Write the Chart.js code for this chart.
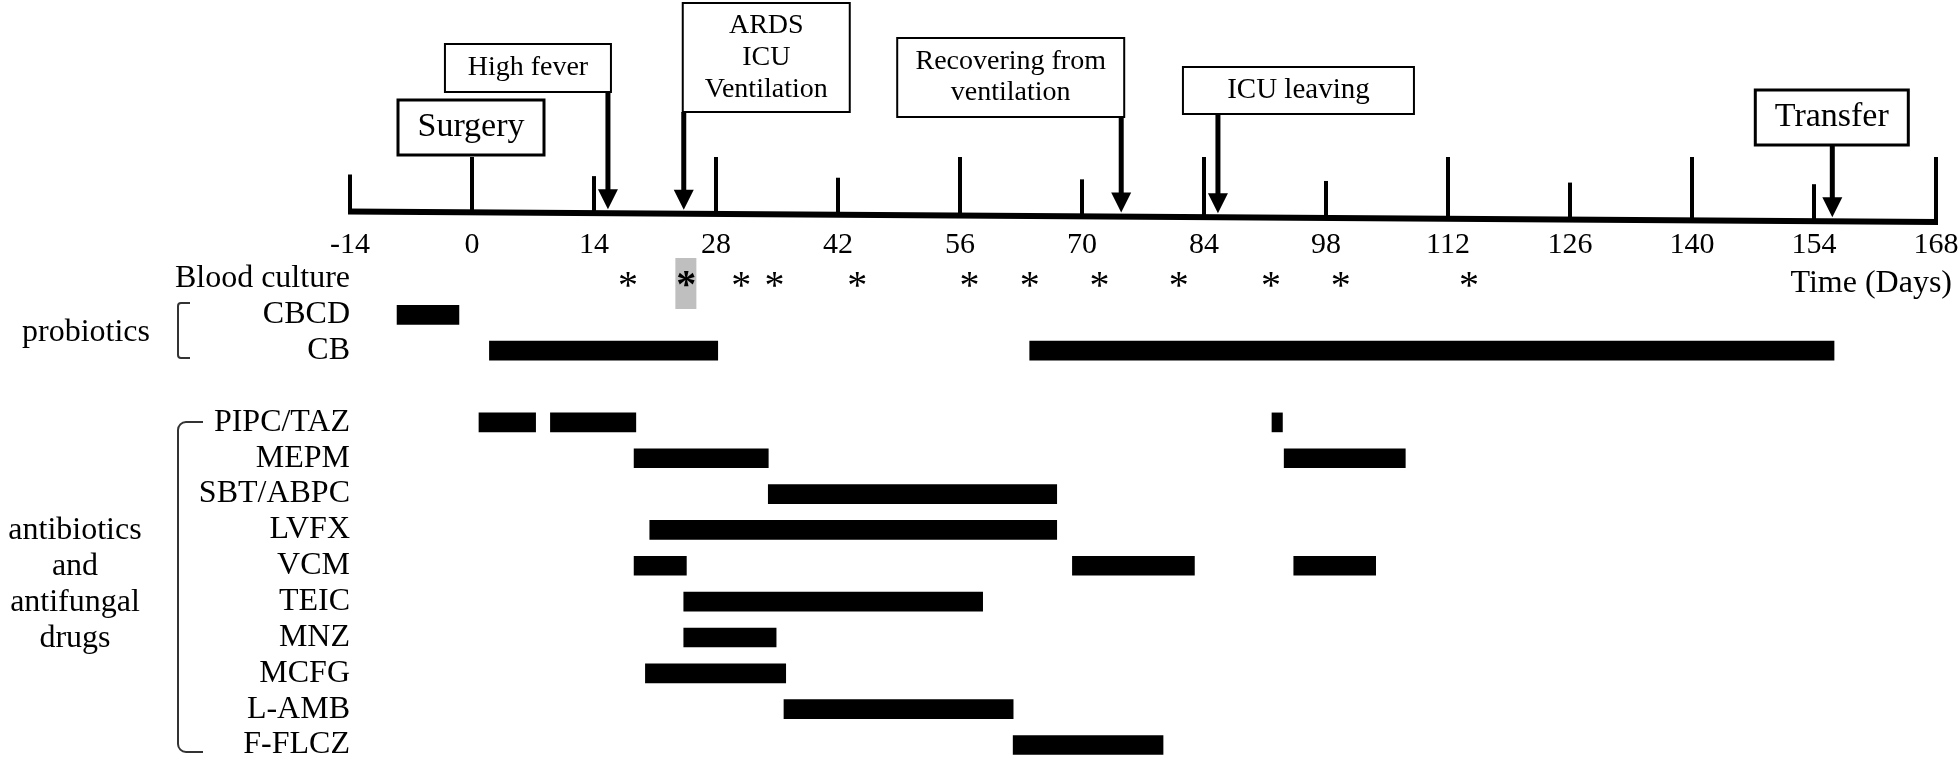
<!DOCTYPE html>
<html>
<head>
<meta charset="utf-8">
<script src="https://cdn.jsdelivr.net/npm/chart.js@4.4.0/dist/chart.umd.min.js"></script>
<style>
  html, body { margin: 0; padding: 0; background: #fff; overflow: hidden; }
  #fonte { position: absolute; left: -9999px; top: 0; font-family: "Liberation Serif", "DejaVu Serif", serif; font-size: 32px; }
</style>
</head>
<body>
<canvas id="linhaTempo" width="1958" height="762"></canvas>
<div id="fonte">Blood culture <b>*</b></div>
<script>
// Eixo de tempo (dias)
const tickDays = [-14, 0, 14, 28, 42, 56, 70, 84, 98, 112, 126, 140, 154, 168];
const tickLabels = ['-14', '0', '14', '28', '42', '56', '70', '84', '98', '112', '126', '140', '154', '168'];

// Linhas do gráfico
const rowLabels = ['Blood culture', 'CBCD', 'CB', '', 'PIPC/TAZ', 'MEPM', 'SBT/ABPC', 'LVFX',
    'VCM', 'TEIC', 'MNZ', 'MCFG', 'L-AMB', 'F-FLCZ'];

// Hemoculturas (dias)
const cultureDays = [17.9, 24.6, 30.9, 34.7, 44.2, 57.1, 64.0, 72.0, 81.1, 91.7, 99.7, 114.4];
const highlightedCulture = 24.6;

// Eventos
const eventNames = ['Surgery', 'High fever', 'ARDS\nICU\nVentilation', 'Recovering from\nventilation', 'ICU leaving', 'Transfer'];
const eventDays = [0, 15.6, 24.3, 74.5, 85.6, 156.1];

// Períodos de tratamento [início, fim]
const cbcdDays = [[-8.6, -1.5]];
const cbDays = [[2.0, 28.2], [64.0, 156.3]];
const pipcTazDays = [[0.8, 7.3], [9.0, 18.8], [91.8, 93.0]];
const mepmDays = [[18.6, 34.0], [93.2, 107.1]];
const sbtAbpcDays = [[34.0, 67.1]];
const lvfxDays = [[20.4, 67.1]];
const vcmDays = [[18.6, 24.6], [68.9, 82.9], [94.3, 103.7]];
const teicDays = [[24.3, 58.6]];
const mnzDays = [[24.3, 34.9]];
const mcfgDays = [[19.9, 36.0]];
const lAmbDays = [[35.8, 62.1]];
const fFlczDays = [[62.1, 79.3]];

const periodsByRow = {
    'CBCD': cbcdDays, 'CB': cbDays, 'PIPC/TAZ': pipcTazDays, 'MEPM': mepmDays,
    'SBT/ABPC': sbtAbpcDays, 'LVFX': lvfxDays, 'VCM': vcmDays, 'TEIC': teicDays,
    'MNZ': mnzDays, 'MCFG': mcfgDays, 'L-AMB': lAmbDays, 'F-FLCZ': fFlczDays
};

// Caixas dos eventos (layout em px, relativo à seta)
const eventBoxes = [
    { dx: -74, w: 146, top: 100, bottom: 155, lw: 3, size: 34, lineH: 0, arrow: false },
    { dx: -163, w: 166, top: 44, bottom: 92, lw: 2, size: 28, lineH: 0, arrow: true },
    { dx: -1, w: 167, top: 3, bottom: 112, lw: 2, size: 28, lineH: 32, arrow: true },
    { dx: -224, w: 227, top: 38, bottom: 117, lw: 2, size: 28, lineH: 31, arrow: true },
    { dx: -35, w: 231, top: 67, bottom: 114, lw: 2, size: 29, lineH: 0, arrow: true },
    { dx: -77, w: 153, top: 90, bottom: 145, lw: 3, size: 34, lineH: 0, arrow: true }
];

const serif = '"Liberation Serif", "DejaVu Serif", serif';
const axisYLeft = 211.5;
const axisYRight = 222;

// Datasets das barras flutuantes
const maxSlots = Math.max(...Object.values(periodsByRow).map(p => p.length));
const barDatasets = [];
for (let k = 0; k < maxSlots; k++) {
    barDatasets.push({
        data: rowLabels.map(r => (periodsByRow[r] && periodsByRow[r][k]) || null),
        backgroundColor: '#000',
        borderWidth: 0,
        barThickness: 19,
        grouped: false,
        clip: false
    });
}

function drawBracket(c, x0, x1, top, bottom, r) {
    c.beginPath();
    c.moveTo(x1, top);
    c.arcTo(x0, top, x0, bottom, r);
    c.arcTo(x0, bottom, x1, bottom, r);
    c.lineTo(x1, bottom);
    c.stroke();
}

// Plugin: linha do tempo, eventos, hemoculturas e chaves
const linhaTempoPlugin = {
    id: 'linhaTempo',
    afterDraw(chart) {
        const c = chart.ctx;
        const xs = chart.scales.x;
        const ys = chart.scales.y;
        const area = chart.chartArea;
        const lineY = px => axisYLeft + (px - area.left) / (area.right - area.left) * (axisYRight - axisYLeft);

        c.save();
        c.strokeStyle = '#000';
        c.fillStyle = '#000';

        // eixo
        c.lineWidth = 6;
        c.beginPath();
        c.moveTo(area.left - 2, lineY(area.left));
        c.lineTo(area.right + 2, lineY(area.right));
        c.stroke();

        // marcas e rótulos
        c.lineWidth = 4;
        c.font = '30px ' + serif;
        c.textAlign = 'center';
        c.textBaseline = 'alphabetic';
        tickDays.forEach((d, i) => {
            const px = xs.getPixelForValue(d);
            const top = d % 28 === 0 ? 157 : lineY(px) - 37;
            c.beginPath();
            c.moveTo(px, lineY(px));
            c.lineTo(px, top);
            c.stroke();
            c.fillText(tickLabels[i], px, 253);
        });

        // eventos
        eventNames.forEach((name, i) => {
            const b = eventBoxes[i];
            const px = xs.getPixelForValue(eventDays[i]);
            const left = px + b.dx;
            c.lineWidth = b.lw;
            c.fillStyle = '#fff';
            c.fillRect(left, b.top, b.w, b.bottom - b.top);
            c.strokeRect(left, b.top, b.w, b.bottom - b.top);
            c.fillStyle = '#000';
            c.font = b.size + 'px ' + serif;
            c.textAlign = 'center';
            c.textBaseline = 'middle';
            const lines = name.split('\n');
            const cy = (b.top + b.bottom) / 2;
            lines.forEach((t, j) => {
                c.fillText(t, left + b.w / 2, cy + (j - (lines.length - 1) / 2) * b.lineH);
            });
            if (b.arrow) {
                const tip = lineY(px) - 4;
                c.lineWidth = 5;
                c.beginPath();
                c.moveTo(px, b.bottom);
                c.lineTo(px, tip - 18);
                c.stroke();
                c.beginPath();
                c.moveTo(px - 10, tip - 20);
                c.lineTo(px + 10, tip - 20);
                c.lineTo(px, tip);
                c.closePath();
                c.fill();
            }
        });

        // hemoculturas
        const rowY = ys.getPixelForValue(0);
        const hx = xs.getPixelForValue(highlightedCulture);
        c.fillStyle = '#bfbfbf';
        c.fillRect(hx - 11, 258, 21, 51);
        c.fillStyle = '#000';
        c.textAlign = 'center';
        c.textBaseline = 'alphabetic';
        cultureDays.forEach(d => {
            c.font = (d === highlightedCulture ? 'bold ' : '') + '40px ' + serif;
            const m = c.measureText('*');
            const off = (m.actualBoundingBoxAscent - m.actualBoundingBoxDescent) / 2;
            c.fillText('*', xs.getPixelForValue(d), rowY + off);
        });

        // textos laterais
        c.font = '32px ' + serif;
        c.textAlign = 'right';
        c.fillText('Time (Days)', 1952, 292);
        c.textAlign = 'center';
        c.fillText('probiotics', 86, 341);
        ['antibiotics', 'and', 'antifungal', 'drugs'].forEach((t, i) => {
            c.fillText(t, 75, 539 + i * 36);
        });

        // chaves
        c.strokeStyle = '#333';
        c.lineWidth = 2;
        drawBracket(c, 178, 190, 303, 358, 3);
        drawBracket(c, 178, 203, 422, 752, 8);

        c.restore();
    }
};

function desenhar() {
    const ctx = document.getElementById('linhaTempo').getContext('2d');
    return new Chart(ctx, {
        type: 'bar',
        data: {
            labels: rowLabels,
            datasets: barDatasets
        },
        options: {
            indexAxis: 'y',
            responsive: false,
            animation: false,
            devicePixelRatio: 1,
            layout: { padding: { top: 279, bottom: 17, left: 0, right: 22 } },
            plugins: {
                legend: { display: false },
                tooltip: { enabled: false }
            },
            scales: {
                x: { type: 'linear', min: -14, max: 168, display: false },
                y: {
                    type: 'category',
                    offset: false,
                    grid: { display: false, drawTicks: false },
                    border: { display: false },
                    ticks: {
                        color: '#000',
                        padding: 0,
                        autoSkip: false,
                        font: { family: serif, size: 32, lineHeight: 1 }
                    },
                    afterFit(scale) { scale.width = 350; }
                }
            }
        },
        plugins: [linhaTempoPlugin]
    });
}

let grafico;
Promise.all([
    document.fonts.load('32px "Liberation Serif"'),
    document.fonts.load('bold 40px "Liberation Serif"')
]).catch(() => null).then(() => { grafico = desenhar(); });
</script>
</body>
</html>
